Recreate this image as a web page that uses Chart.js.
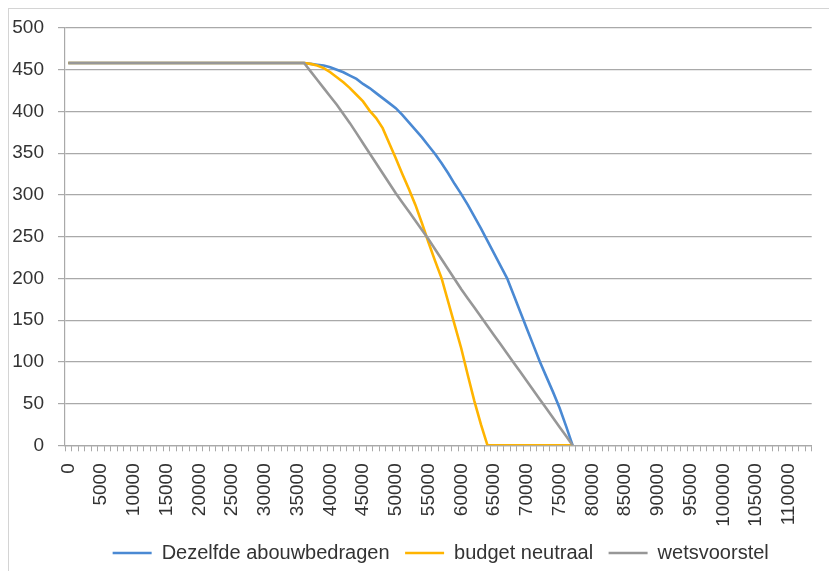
<!DOCTYPE html>
<html>
<head>
<meta charset="utf-8">
<script src="https://cdn.jsdelivr.net/npm/chart.js@4/dist/chart.umd.min.js"></script>
<style>
  html, body { margin: 0; padding: 0; background: #ffffff; }
  #wrap { position: relative; width: 829px; height: 571px; overflow: hidden; }
  #frame { position: absolute; left: 8px; top: 8px; width: 900px; height: 700px;
           border-left: 1px solid #d4d4d4; border-top: 1px solid #d4d4d4; }
  canvas { position: absolute; left: 0; top: 0; }
</style>
</head>
<body>
<div id="wrap">
  <div id="frame"></div>
  <canvas id="c" width="829" height="571"></canvas>
</div>
<script>
// Category axis (inkomen), every 1000
const categories = [
  0,1000,2000,3000,4000,5000,6000,7000,8000,9000,
  10000,11000,12000,13000,14000,15000,16000,17000,18000,19000,
  20000,21000,22000,23000,24000,25000,26000,27000,28000,29000,
  30000,31000,32000,33000,34000,35000,36000,37000,38000,39000,
  40000,41000,42000,43000,44000,45000,46000,47000,48000,49000,
  50000,51000,52000,53000,54000,55000,56000,57000,58000,59000,
  60000,61000,62000,63000,64000,65000,66000,67000,68000,69000,
  70000,71000,72000,73000,74000,75000,76000,77000,78000,79000,
  80000,81000,82000,83000,84000,85000,86000,87000,88000,89000,
  90000,91000,92000,93000,94000,95000,96000,97000,98000,99000,
  100000,101000,102000,103000,104000,105000,106000,107000,108000,109000,
  110000,111000,112000,113000
];

const seriesNames = ["Dezelfde abouwbedragen", "budget neutraal", "wetsvoorstel"];

// Dezelfde abouwbedragen (0 .. 77000)
const dezelfdeAfbouw = [
  458,458,458,458,458,458,458,458,458,458,
  458,458,458,458,458,458,458,458,458,458,
  458,458,458,458,458,458,458,458,458,458,
  458,458,458,458,458,458,
  458,457,456,455,453,450,447,443,439,433,
  428,422,416,410,404,396,387,378,369,359,
  349,338,326,313,301,288,274,260,245,230,
  215,200,180,160,140,120,100,82,64,45,
  23,0
];

// budget neutraal (0 .. 77000)
const budgetNeutraal = [
  458,458,458,458,458,458,458,458,458,458,
  458,458,458,458,458,458,458,458,458,458,
  458,458,458,458,458,458,458,458,458,458,
  458,458,458,458,458,458,
  458,457,455,452,447,441,435,428,420,412,
  401,392,380,362,344,325,307,288,266,243,
  221,200,172,144,116,84,53,25,0,0,
  0,0,0,0,0,0,0,0,0,0,
  0,0
];

// wetsvoorstel (0 .. 77000)
const wetsvoorstel = [
  458,458,458,458,458,458,458,458,458,458,
  458,458,458,458,458,458,458,458,458,458,
  458,458,458,458,458,458,458,458,458,458,
  458,458,458,458,458,458,
  458,448,438,428,418,408,397,386,374,362,
  350,338,326,314,302,291,280,269,258,247,
  235,223,211,199,187,176,165,154,143,132,
  121,110,99,88,77,66,55,44,33,22,
  11,0
];

const yTicks = { min: 0, max: 500, step: 50 };
const xLabelEvery = 5;

const colors = ["#4a89d3", "#ffb400", "#979797"];
const gridColor = "#a9a9a9";
const textColor = "#333333";
const FONT = "'Liberation Sans', Arial, sans-serif";

const ctx = document.getElementById('c').getContext('2d');
new Chart(ctx, {
  type: 'line',
  data: {
    labels: categories,
    datasets: [
      { label: seriesNames[0], data: dezelfdeAfbouw, borderColor: colors[0], backgroundColor: colors[0],
        borderWidth: 2.6, pointRadius: 0, tension: 0, fill: false, order: 2 },
      { label: seriesNames[1], data: budgetNeutraal, borderColor: colors[1], backgroundColor: colors[1],
        borderWidth: 2.6, pointRadius: 0, tension: 0, fill: false, order: 1 },
      { label: seriesNames[2], data: wetsvoorstel, borderColor: colors[2], backgroundColor: colors[2],
        borderWidth: 2.6, pointRadius: 0, tension: 0, fill: false, order: 0 }
    ]
  },
  options: {
    responsive: false,
    animation: false,
    devicePixelRatio: 1,
    layout: { padding: { left: 8, right: -44.4, top: 28, bottom: -2 } },
    plugins: {
      tooltip: { enabled: false },
      legend: {
        position: 'bottom',
        labels: {
          usePointStyle: true,
          pointStyle: 'line',
          pointStyleWidth: 39,
          padding: 15.5,
          color: textColor,
          font: { family: FONT, size: 20 },
          sort: (a, b) => a.datasetIndex - b.datasetIndex
        }
      }
    },
    scales: {
      x: {
        type: 'category',
        offset: true,
        grid: { display: true, drawOnChartArea: false, drawTicks: true, tickLength: 6,
                color: gridColor, offset: true },
        border: { display: true, color: gridColor, width: 1.2 },
        ticks: {
          autoSkip: false,
          maxRotation: 90,
          minRotation: 90,
          padding: 12,
          color: textColor,
          font: { family: FONT, size: 19 },
          callback: function(value, index) {
            return index % xLabelEvery === 0 ? String(categories[index]) : '';
          }
        },
        afterFit: (s) => { s.height = 82.2; s.paddingLeft = 0; s.paddingRight = 0; }
      },
      y: {
        min: yTicks.min,
        max: yTicks.max,
        grid: { color: gridColor, lineWidth: 1.2, tickLength: 7, drawTicks: true },
        border: { display: true, color: gridColor, width: 1.2 },
        ticks: {
          stepSize: yTicks.step,
          padding: 14,
          color: textColor,
          font: { family: FONT, size: 19 }
        },
        afterFit: (s) => { s.width = 57; }
      },
      y2: {
        position: 'right',
        display: true,
        grid: { display: false, drawTicks: false },
        border: { display: false },
        ticks: { display: false },
        afterFit: (s) => { s.width = 61.7; s.paddingTop = 0; s.paddingBottom = 0; }
      }
    }
  }
});
</script>
</body>
</html>
